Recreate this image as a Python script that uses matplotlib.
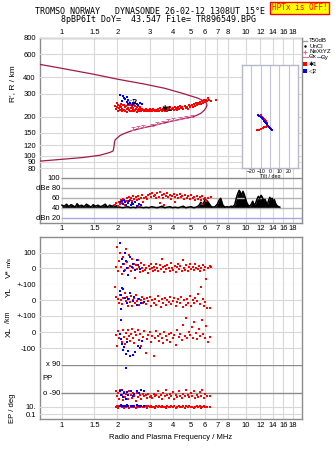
import numpy as np
import matplotlib
matplotlib.use("Agg")
import matplotlib.pyplot as plt

plt.rcParams['font.family'] = ['Liberation Sans', 'DejaVu Sans']

# frequency axis (MHz) and height axis (km)
freq_ticks = [1, 1.5, 2, 3, 4, 5, 6, 7, 8, 10, 12, 14, 16, 18]
freq_labels = ['1', '1.5', '2', '3', '4', '5', '6', '7', '8', '10', '12', '14', '16', '18']
height_ticks = [80, 90, 100, 120, 150, 200, 300, 400, 600, 800]

# true height profile, bottomside up to foF2 then topside model
prof_f = [0.76, 1.0, 1.3, 1.61, 1.82, 1.90, 1.92, 1.93, 1.95, 2.07,
          2.2, 2.44, 2.77, 3.07, 3.55, 4.0, 4.38, 4.72, 5.07, 5.4,
          5.7, 5.95, 6.08, 6.15, 6.10, 5.95, 5.47, 4.5, 3.63, 2.8,
          2.0, 1.5, 1.0, 0.76]
prof_h = [91, 94, 97, 101, 106, 109, 118, 127, 133, 143,
          149, 157, 164, 169, 178, 185, 190, 194, 198, 204,
          212, 224, 234, 245, 254, 262, 277, 302, 329, 355,
          387, 421, 468, 502]

# NeXtYZ points
nexyz_f = [2.44, 2.60, 2.77, 3.07, 3.27, 3.55, 3.78, 4.00, 4.38, 4.72, 5.07]
nexyz_h = [162, 166, 169, 173, 177, 182, 187, 191, 195, 199, 201]

# O-mode (red) virtual heights
red_h_f = [1.95, 1.97, 1.99, 2.01, 2.02, 2.04, 2.06, 2.08, 2.10, 2.12,
           2.13, 2.15, 2.17, 2.19, 2.21, 2.23, 2.25, 2.27, 2.29, 2.31,
           2.33, 2.35, 2.37, 2.39, 2.41, 2.43, 2.45, 2.47, 2.49, 2.51,
           2.53, 2.55, 2.57, 2.59, 2.61, 2.63, 2.65, 2.68, 2.70, 2.73,
           2.76, 2.79, 2.82, 2.85, 2.88, 2.91, 2.94, 2.97, 3.00, 3.03,
           3.06, 3.10, 3.13, 3.17, 3.21, 3.25, 3.29, 3.33, 3.37, 3.41,
           3.45, 3.49, 3.53, 3.57, 3.61, 3.65, 3.69, 3.73, 3.78, 3.82,
           3.86, 3.91, 3.96, 4.00, 4.05, 4.10, 4.15, 4.20, 4.25, 4.30,
           4.35, 4.40, 4.46, 4.52, 4.58, 4.64, 4.70, 4.76, 4.82, 4.88,
           4.94, 5.00, 5.07, 5.14, 5.21, 5.28, 5.35, 5.42, 5.50, 5.57,
           5.64, 5.71, 5.78, 5.85, 5.92, 5.99, 6.05, 6.12, 6.20, 6.30,
           6.45, 6.90, 2.00, 2.09, 2.18, 2.28, 2.38, 2.48, 2.58, 2.66]
red_h_h = [240, 228, 236, 246, 222, 232, 241, 226, 237, 219,
           230, 244, 225, 235, 221, 240, 229, 218, 234, 226,
           243, 222, 231, 219, 238, 227, 233, 221, 240, 225,
           230, 218, 236, 224, 229, 220, 234, 226, 222, 230,
           225, 220, 226, 222, 229, 220, 225, 222, 228, 221,
           225, 219, 227, 223, 220, 226, 222, 228, 221, 232,
           224, 219, 229, 225, 234, 222, 228, 220, 231, 226,
           236, 223, 229, 233, 225, 238, 228, 232, 224, 236,
           229, 240, 231, 235, 227, 242, 233, 238, 230, 244,
           236, 240, 246, 237, 249, 242, 252, 245, 255, 248,
           258, 251, 262, 256, 266, 259, 270, 264, 275, 268,
           262, 266, 252, 249, 247, 244, 246, 243, 241, 238]

# X-mode (blue) virtual heights
blue_h_f = [2.07, 2.16, 2.25, 2.20, 2.13, 2.25, 2.34, 2.44, 2.55, 2.65,
            2.71, 2.29, 2.39, 2.18, 2.30, 2.50, 2.60]
blue_h_h = [291, 287, 281, 273, 263, 259, 252, 255, 248, 256,
            250, 267, 244, 277, 250, 252, 246]

# tilt inset
tilt_red_x = [-13.5, -12, -10, -8, -6, -4.5, -3.5, -9.5, -8.5, -7.5, -6.5, -5.5, -4.5, -3.5, -3]
tilt_red_h = [157, 158, 160, 162, 164, 166, 168, 203, 199, 195, 191, 187, 183, 179, 175]
tilt_blue_x = [-12.5, -11.5, -10, -9, -8, -6.5, -5, -4, -3, -2, -1, 0, 1, 2]
tilt_blue_h = [205, 201, 197, 193, 189, 185, 181, 177, 173, 169, 165, 162, 159, 157]

# receiver noise trace (dB)
noise_f = [1.00, 1.03, 1.06, 1.09, 1.12, 1.15, 1.18, 1.21, 1.24, 1.28,
           1.32, 1.36, 1.40, 1.44, 1.48, 1.52, 1.57, 1.62, 1.67, 1.72,
           1.77, 1.82, 1.88, 1.94,
           2.00, 2.07, 2.14, 2.21, 2.28, 2.36, 2.44, 2.52, 2.60, 2.69,
           2.78, 2.87, 2.97, 3.07, 3.17, 3.28, 3.39, 3.50, 3.62, 3.74,
           3.87, 4.00, 4.13, 4.27, 4.41, 4.56, 4.71, 4.87, 5.03, 5.20,
           5.37, 5.55,
           5.70, 5.85, 6.00, 6.15, 6.30, 6.45, 6.60, 6.80,
           7.00, 7.15, 7.30, 7.50, 7.70, 7.90, 8.10, 8.30, 8.50, 8.70,
           8.90, 9.05, 9.20, 9.35, 9.50, 9.65, 9.80, 9.95, 10.10, 10.30,
           10.50, 10.70, 10.90, 11.10, 11.30, 11.50, 11.70, 11.90, 12.10, 12.30,
           12.50, 12.70, 12.90, 13.10, 13.30, 13.50, 13.70, 13.90, 14.10, 14.30,
           14.50, 14.70, 14.90, 15.10, 15.30]
noise_db = [46, 44, 48, 43, 47, 45, 42, 49, 44, 46,
            43, 48, 45, 42, 47, 44, 46, 43, 45, 48,
            42, 46, 44, 47,
            43, 42, 41, 42, 43, 41, 42, 41, 43, 42,
            41, 42, 41, 43, 42, 41, 42, 44, 41, 42,
            43, 41, 42, 41, 42, 44, 41, 42, 43, 41,
            42, 45,
            52, 47, 58, 55, 50, 44, 42, 43,
            48, 56, 60, 46, 42, 43, 42, 44, 43, 47,
            62, 70, 76, 72, 66, 74, 68, 60, 52, 46,
            44, 48, 54, 46, 50, 58, 64, 60, 66, 62,
            55, 58, 52, 47, 56, 62, 58, 60, 54, 57,
            50, 46, 44, 43, 42]

# echo amplitudes (dB)
amp_red_f = [1.95, 1.98, 2.01, 2.04, 2.07, 2.10, 2.13, 2.16, 2.19, 2.22,
             2.25, 2.28, 2.31, 2.34, 2.37, 2.40, 2.44, 2.48, 2.52, 2.56,
             2.60, 2.64, 2.68, 2.72, 2.76, 2.80, 2.85, 2.90, 2.95, 3.00,
             3.05, 3.10, 3.15, 3.20, 3.25, 3.30, 3.36, 3.42, 3.48, 3.54,
             3.60, 3.66, 3.72, 3.78, 3.85, 3.92, 3.99, 4.06, 4.13, 4.20,
             4.28, 4.36, 4.44, 4.52, 4.60, 4.68, 4.77, 4.86, 4.95, 5.04,
             5.13, 5.22, 5.31, 5.40, 5.50, 5.60, 5.70, 5.80, 5.90, 6.00,
             6.10, 6.25, 6.45, 3.40, 3.60, 2.60, 4.10, 5.75]
amp_red_db = [46, 50, 44, 53, 48, 56, 51, 58, 47, 54,
              60, 55, 63, 57, 61, 54, 65, 59, 62, 56,
              64, 58, 61, 66, 53, 60, 63, 58, 66, 69,
              62, 71, 64, 67, 60, 70, 63, 72, 66, 61,
              68, 64, 70, 62, 67, 59, 65, 69, 62, 66,
              60, 68, 63, 65, 59, 67, 61, 64, 58, 66,
              60, 63, 57, 65, 59, 62, 56, 64, 58, 61,
              55, 60, 63, 50, 47, 45, 52, 48]
amp_blue_f = [2.08, 2.11, 2.14, 2.17, 2.20, 2.24, 2.28, 2.32, 2.36, 2.40,
              2.45, 2.50, 2.55, 2.62, 2.68]
amp_blue_db = [52, 55, 49, 56, 53, 47, 51, 54, 46, 50, 48, 52, 45, 49, 47]

# Doppler velocity V* (m/s)
v_red_f = [1.96, 1.99, 2.02, 2.05, 2.08, 2.10, 2.12, 2.15, 2.18, 2.20,
           2.23, 2.25, 2.28, 2.30, 2.33, 2.35, 2.38, 2.41, 2.44, 2.47,
           2.50, 2.53, 2.56, 2.59, 2.62, 2.65, 2.68, 2.72, 2.76, 2.80,
           2.84, 2.88, 2.92, 2.96, 3.00, 3.04, 3.08, 3.12, 3.16, 3.20,
           3.25, 3.30, 3.35, 3.40, 3.45, 3.50, 3.55, 3.60, 3.65, 3.70,
           3.75, 3.80, 3.86, 3.92, 3.98, 4.04, 4.10, 4.16, 4.22, 4.28,
           4.34, 4.40, 4.47, 4.54, 4.61, 4.68, 4.75, 4.82, 4.90, 4.98,
           5.06, 5.14, 5.22, 5.30, 5.38, 5.46, 5.55, 5.64, 5.73, 5.82,
           5.91, 6.00, 6.10, 6.20, 6.35, 6.50]
v_red = [8, 135, -20, 45, 95, 10, -35, 70, 25, -10,
         120, 40, 5, -45, 85, 15, -20, 60, 0, 30,
         -60, 20, -5, 50, 10, -25, 35, 5, -15, 20,
         -10, 5, -30, 15, -5, 25, 0, -20, 10, -8,
         30, 2, -15, 18, -3, 60, 8, -25, 12, -6,
         22, 0, -18, 35, 5, -10, 15, -22, 8, 28,
         -4, 12, -15, 55, 3, -8, 18, -20, 6, 25,
         -5, 10, -12, 30, 0, -6, 15, -18, 5, 22,
         -8, 10, -65, 4, 12, 8]
v_blue_f = [2.07, 2.12, 2.15, 2.18, 2.20, 2.23, 2.26, 2.30, 2.35, 2.40,
            2.45, 2.50, 2.55, 2.60, 2.65]
v_blue = [162, 60, 25, -15, 95, 45, 0, -40, 70, 10, 30, -10, 50, 20, -5]

# YL (km)
yl_red_f = [1.95, 1.98, 2.01, 2.04, 2.07, 2.10, 2.13, 2.16, 2.19, 2.22,
            2.25, 2.28, 2.31, 2.34, 2.37, 2.40, 2.43, 2.46, 2.49, 2.52,
            2.56, 2.60, 2.64, 2.68, 2.72, 2.76, 2.80, 2.85, 2.90, 2.95,
            3.00, 3.05, 3.10, 3.15, 3.20, 3.26, 3.32, 3.38, 3.44, 3.50,
            3.56, 3.62, 3.68, 3.74, 3.80, 3.87, 3.94, 4.01, 4.08, 4.15,
            4.22, 4.30, 4.38, 4.46, 4.54, 4.62, 4.70, 4.78, 4.87, 4.96,
            5.05, 5.14, 5.23, 5.32, 5.42, 5.52, 5.62, 5.72, 5.82, 5.92,
            6.02, 6.15, 6.35]
yl_red = [82, 20, 5, -15, 30, 0, -25, 12, 45, -5,
          20, -35, 8, -12, 25, -40, 2, 15, -20, 35,
          -8, 10, -30, 0, 18, -15, 5, -22, 12, -6,
          20, -35, 0, -15, 10, -28, 25, -5, -42, 8,
          -18, 15, -30, 2, -12, 22, -25, -5, 12, -38,
          -10, 5, -20, 18, -45, -2, -28, 10, -15, 28,
          -35, 0, -20, 15, -8, 40, -25, 86, 5, -40,
          -12, -50, -48]
yl_blue_f = [2.07, 2.10, 2.13, 2.16, 2.20, 2.25, 2.30, 2.35, 2.42, 2.48,
             2.55, 2.62, 2.70, 2.78, 2.09]
yl_blue = [60, 35, 80, 70, 15, -20, 10, 45, -5, 20, -30, 5, -15, -10, -55]

# XL (km)
xl_red_f = [1.96, 1.99, 2.02, 2.05, 2.08, 2.11, 2.14, 2.17, 2.20, 2.23,
            2.26, 2.29, 2.32, 2.35, 2.38, 2.41, 2.44, 2.47, 2.50, 2.54,
            2.58, 2.62, 2.66, 2.70, 2.75, 2.80, 2.85, 2.90, 2.95, 3.00,
            3.05, 3.10, 3.15, 3.20, 3.25, 3.31, 3.37, 3.43, 3.49, 3.55,
            3.61, 3.67, 3.73, 3.80, 3.87, 3.94, 4.01, 4.08, 4.16, 4.24,
            4.32, 4.40, 4.48, 4.56, 4.64, 4.72, 4.80, 4.89, 4.98, 5.07,
            5.16, 5.25, 5.35, 5.45, 5.55, 5.65, 5.76, 5.87, 5.98, 6.10,
            6.22, 6.40]
xl_red = [-20, -85, 5, -40, -15, -60, 10, -30, -75, -5,
          -45, 15, -25, -55, -10, 20, -35, -70, 0, -20,
          10, -50, -15, -90, -30, 5, -130, -45, -18, -2,
          -60, -25, -150, -40, 8, -22, -55, -12, -35, -70,
          2, -28, -48, -15, -62, -5, -38, -20, -80, 15,
          -30, -10, -52, 45, -25, 90, -40, 0, -18, 30,
          -35, 65, -5, -45, 20, -25, 75, -10, -38, 40,
          -60, -30]
xl_blue_f = [2.06, 2.09, 2.12, 2.15, 2.18, 2.22, 2.25, 2.30, 2.35, 2.42,
             2.50, 2.58, 2.66, 2.72, 2.22, 2.10]
xl_blue = [-10, -45, -75, -110, -95, -140, -60, -120, -150, -145,
           -125, -85, -100, -55, -225, 75]

# polarisation PP (deg) and EP (deg)
pp_red_f = [1.96, 1.99, 2.02, 2.05, 2.08, 2.11, 2.14, 2.17, 2.20, 2.24,
            2.28, 2.32, 2.36, 2.40, 2.44, 2.48, 2.52, 2.56, 2.60, 2.65,
            2.70, 2.75, 2.80, 2.85, 2.90, 2.95, 3.00, 3.05, 3.10, 3.15,
            3.20, 3.26, 3.32, 3.38, 3.44, 3.50, 3.56, 3.62, 3.68, 3.74,
            3.80, 3.87, 3.94, 4.01, 4.08, 4.16, 4.24, 4.32, 4.40, 4.48,
            4.56, 4.65, 4.74, 4.83, 4.92, 5.01, 5.10, 5.20, 5.30, 5.40,
            5.50, 5.60, 5.70, 5.80, 5.90, 6.00, 6.15, 6.40]
pp_red = [-75, -110, -90, -125, -70, -100, -135, -85, -115, -95,
          -130, -78, -105, -120, -88, -110, -140, -92, -118, -100,
          -125, -96, -112, -104, -120, -98, -115, -108, -122, -95,
          -112, -104, -80, -118, -100, -125, -90, -110, -72, -105,
          -120, -95, -112, -85, -128, -100, -115, -78, -108, -122,
          -95, -112, -68, -105, -118, -90, -110, -75, -124, -100,
          -115, -85, -108, -72, -120, -95, -112, -110]
ep_red = [9, 16, 6, 12, 20, 7, 10, 5, 14, 9,
          18, 6, 11, 8, 15, 10, 5, 13, 8, 11,
          17, 7, 10, 13, 6, 12, 9, 16, 7, 11,
          5, 14, 9, 12, 7, 18, 8, 11, 6, 13,
          10, 7, 15, 9, 12, 5, 11, 14, 8, 10,
          16, 6, 12, 9, 13, 7, 11, 5, 10, 15,
          8, 12, 6, 11, 14, 9, 7, 10]
pp_blue_f = [2.06, 2.09, 2.12, 2.15, 2.18, 2.22, 2.26, 2.30, 2.36, 2.42,
             2.48, 2.55, 2.62, 2.70, 2.78]
pp_blue = [-80, -105, -72, -118, -90, -130, -85, -100, -75, -110,
           -95, -78, -88, -70, -80]
ep_blue = [18, 22, 16, 20, 19, 15, 21, 17, 20, 16, 19, 22, 17, 18, 16]

FMIN, FMAX = 0.76, 20.2
W, H = 335.0, 451.0
GRID = '#d8d8d8'
FRAME = '#8c8c8c'
RED, BLUE = '#ff0000', '#0000ff'
MS = 2.1

fig = plt.figure(figsize=(W / 100, H / 100), dpi=100)


def px_axes(x0, y0, x1, y1, frame=False):
    ax = fig.add_axes([x0 / W, 1 - y1 / H, (x1 - x0) / W, (y1 - y0) / H])
    for s in ax.spines.values():
        s.set_color(FRAME)
        s.set_linewidth(1)
        s.set_visible(frame)
    if not frame:
        ax.patch.set_alpha(0)
    return ax


def freq_x(ax, labels=False):
    ax.set_xscale('log')
    ax.set_xlim(FMIN, FMAX)
    ax.set_xticks(freq_ticks)
    ax.set_xticklabels(freq_labels if labels else [])
    ax.minorticks_off()


def ftext(x, y, s, **kw):
    kw.setdefault('fontsize', 5.5)
    fig.text(x / W, 1 - y / H, s, **kw)


def dots(ax, f, v, color, ms=MS):
    ax.plot(f, v, 's', color=color, ms=ms, mew=0, clip_on=False)


# ---------- upper frame: heights + amplitudes ----------
top = px_axes(40, 38, 302, 223, frame=True)
freq_x(top, labels=True)
top.set_yticks([])
top.tick_params(axis='x', length=0, labelsize=5.5, pad=1.5, top=True, labeltop=True)
top.grid(axis='x', color=GRID, lw=0.8)

hax = px_axes(40, 38, 302, 176)
freq_x(hax)
hax.set_yscale('log')
hax.set_ylim(70, 800)
hax.set_yticks(height_ticks)
hax.set_yticklabels([str(t) for t in height_ticks])
hax.minorticks_off()
hax.tick_params(length=0, labelsize=5.5, pad=3)
hax.grid(axis='y', color=GRID, lw=0.8)
hax.plot(prof_f, prof_h, color='#a3194b', lw=0.9)
hax.errorbar(nexyz_f, nexyz_h, yerr=[[3] * len(nexyz_h), [3] * len(nexyz_h)],
             fmt='none', ecolor='#e0609a', elinewidth=0.7, capsize=1.4, capthick=0.7)
dots(hax, red_h_f, red_h_h, RED)
dots(hax, blue_h_f, blue_h_h, BLUE)
hax.text(3.74, 227, '✱1', fontsize=5.5, ha='center', va='center', fontweight='bold')
hax.text(2.43, 258, '◁2', fontsize=5.5, ha='center', va='center', fontweight='bold')

# tilt inset
tax = px_axes(242, 65, 298, 168, frame=True)
tax.patch.set_alpha(1)
for s in tax.spines.values():
    s.set_color('#b8b8cc')
tax.set_xlim(-30, 30)
tax.set_yscale('log')
tax.set_ylim(80, 496)
tax.set_yticks([])
tax.minorticks_off()
tax.set_xticks([-20, -10, 0, 10, 20])
tax.tick_params(axis='x', length=0, labelsize=3.7, pad=1)
tax.grid(axis='x', color='#c4c4d8', lw=0.8)
tax.set_xlabel('Tilt / deg', fontsize=3.9, labelpad=0)
dots(tax, tilt_red_x, tilt_red_h, RED, ms=1.7)
dots(tax, tilt_blue_x, tilt_blue_h, BLUE, ms=1.7)

aax = px_axes(40, 176, 302, 223)
freq_x(aax)
aax.set_ylim(10, 105)
aax.set_yticks([])
aax.tick_params(axis='x', length=0)
for lev, col, lab in [(100, '#8c8c8c', '100'), (80, '#a8a8a8', 'dBe 80'),
                      (60, '#b4b4b4', '60'), (40, '#b4b4b4', '40'),
                      (20, '#a8a8e8', 'dBn 20')]:
    aax.hlines(lev, 0.985, FMAX, color=col, lw=1)
    aax.text(0.975, lev, lab, ha='right', va='center', fontsize=5.5)
aax.fill_between(noise_f, 40, noise_db, color='k', lw=0)
aax.plot(noise_f, noise_db, color='k', lw=1.1)
dots(aax, amp_red_f, amp_red_db, RED)
dots(aax, amp_blue_f, amp_blue_db, BLUE)

# ---------- lower frame: Doppler, location, polarisation ----------
low = px_axes(40, 237, 302, 419, frame=True)
freq_x(low, labels=True)
low.set_yticks([])
low.tick_params(axis='x', length=0, labelsize=5.5, pad=2)
low.grid(axis='x', color=GRID, lw=0.8)
low.set_xlabel('Radio and Plasma Frequency / MHz', fontsize=5.5, labelpad=4)


def sub_axes(y0, y1, ylim, ticks, labels, log=False):
    ax = px_axes(40, y0, 302, y1)
    freq_x(ax)
    if log:
        ax.set_yscale('log')
    ax.set_ylim(*ylim)
    ax.set_yticks(ticks)
    ax.set_yticklabels(labels)
    ax.minorticks_off()
    ax.tick_params(length=0, labelsize=5.5, pad=3)
    ax.grid(axis='y', color=GRID, lw=0.8)
    return ax


vax = sub_axes(237, 284.3, (-101, 198), [100, 0, -100], ['100', '0', '+-100'])
dots(vax, v_red_f, v_red, RED)
dots(vax, v_blue_f, v_blue, BLUE)

yax = sub_axes(284.3, 316, (-101, 101), [0], ['0'])
dots(yax, yl_red_f, yl_red, RED)
dots(yax, yl_blue_f, yl_blue, BLUE)

xax = sub_axes(316, 365, (-206, 100), [100, 0, -100], ['+-100', '0', '-100'])
dots(xax, xl_red_f, xl_red, RED)
dots(xax, xl_blue_f, xl_blue, BLUE)

pax = sub_axes(365, 401, (-141, 90), [], [])
for lev, lab in [(90, 'x 90'), (-90, 'o -90')]:
    pax.hlines(lev, 0.985, FMAX, color='#8c8c8c', lw=1)
    pax.text(0.975, lev, lab, ha='right', va='center', fontsize=5.5)
pax.text(0.785, 6, 'PP', ha='left', va='center', fontsize=5.5)
dots(pax, pp_red_f, pp_red, RED)
dots(pax, pp_blue_f, pp_blue, BLUE)

eax = sub_axes(401, 419, (0.0058, 316), [10, 0.1], ['10.', '0.1'], log=True)
dots(eax, pp_red_f, ep_red, RED)
dots(eax, pp_blue_f, ep_blue, BLUE)

# ---------- axis titles ----------
ftext(13, 84, "R', R / km", rotation=90, ha='center', va='center', fontsize=6)
ftext(9, 274, 'V*', rotation=90, ha='center', va='center', fontsize=6)
ftext(9, 262, 'm/s', rotation=90, ha='center', va='center', fontsize=4.5)
ftext(9, 292, 'YL', rotation=90, ha='center', va='center', fontsize=6)
ftext(9, 317, '/km', rotation=90, ha='center', va='center', fontsize=5)
ftext(9, 332, 'XL', rotation=90, ha='center', va='center', fontsize=6)
ftext(12, 408, 'EP / deg', rotation=90, ha='center', va='center', fontsize=5.5)

# ---------- header ----------
mono = dict(family='DejaVu Sans Mono', fontsize=6, va='center', ha='left')
ftext(35, 12, 'TROMSO NORWAY   DYNASONDE 26-02-12 1308UT 15°E', **mono)
ftext(61, 20, '8pBP6It DoY=  43.547 File= TR896549.BPG', **mono)
mono['fontsize'] = 5.6
ftext(272, 8, 'HPTx is OFF!', color='red',
      bbox=dict(boxstyle='square,pad=0.2', fc='#ffff00', ec='red', lw=1), **mono)

# ---------- legend ----------
ov = fig.add_axes([0, 0, 1, 1])
ov.set_xlim(0, W)
ov.set_ylim(H, 0)
ov.axis('off')
ov.plot([302.5, 307], [40.5, 40.5], color='#a0a0a0', lw=1)
ov.plot([305], [46], '.', color='k', ms=1.5)
ov.plot([305], [51.5], '+', color='#e0609a', ms=3.5, mew=0.8)
ov.plot([302.5, 308], [57, 57], color='#e07090', lw=0.8)
ov.plot([316.5, 320.5], [57, 57], color='#8080e0', lw=0.8)
ov.plot([304.5], [64], 's', color=RED, ms=2.2, mew=0)
ov.plot([304.5], [71], 's', color=BLUE, ms=2.2, mew=0)
for yy, lab in [(40.5, 'T50dB'), (46, 'UnCl'), (51.5, 'NeXtYZ'), (57, 'Θx'),
                (64, '✱1'), (71, '◁2')]:
    ov.text(309, yy, lab, fontsize=4.4, va='center')
ov.text(321, 57, 'Θy', fontsize=4.4, va='center')

fig.savefig('out.png', dpi=100)
